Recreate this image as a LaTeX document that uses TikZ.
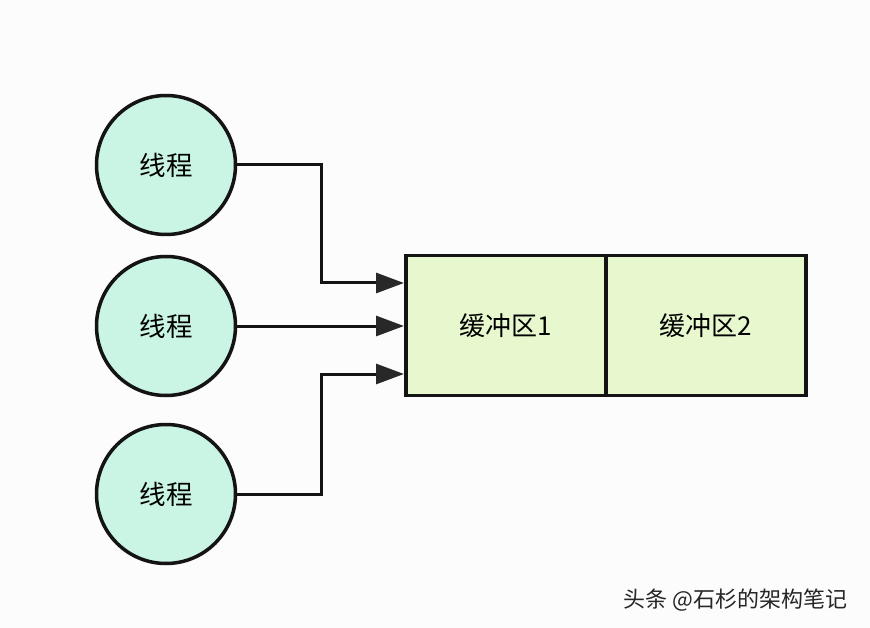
\documentclass[tikz,border=0pt]{standalone}
\usepackage{fontspec}
\newfontfamily\cjk{Noto Sans CJK SC}
\usetikzlibrary{arrows.meta}
\definecolor{bgc}{RGB}{252,252,252}
\definecolor{circfill}{RGB}{202,245,228}
\definecolor{boxfill}{RGB}{231,248,206}
\definecolor{linec}{RGB}{20,20,20}
\definecolor{arrc}{RGB}{40,40,40}
\tikzset{
  thread/.style={circle, draw=linec, line width=3.5pt, fill=circfill, minimum size=139pt, inner sep=0pt, font=\cjk\fontsize{26.5}{26.5}\selectfont},
  buf/.style={rectangle, draw=linec, line width=3.5pt, fill=boxfill, minimum width=200pt, minimum height=140pt, inner sep=0pt, font=\cjk\fontsize{26}{26}\selectfont},
  conn/.style={draw=linec, line width=3pt, -{Triangle[length=28pt,width=20pt,color=arrc]}},
}
\begin{document}
\begin{tikzpicture}[x=1pt,y=-1pt]
\fill[bgc] (0,0) rectangle (870,628);
\useasboundingbox (0,0) rectangle (870,628);
\node[thread] (t1) at (166,165) {线程};
\node[thread] (t2) at (166,326) {线程};
\node[thread] (t3) at (166,494) {线程};
\node[buf] (b1) at (506,325.5) {缓冲区1};
\node[buf] (b2) at (706,325.5) {缓冲区2};
\coordinate (p1) at (404,283);
\coordinate (p2) at (404,326);
\coordinate (p3) at (404,374);
\draw[conn] (t1.east) -| (321,283) -- (p1);
\draw[conn] (t2.east) -- (p2);
\draw[conn] (t3.east) -| (321,374) -- (p3);
\node[anchor=east, text=black!85, font=\cjk\fontsize{22}{22}\selectfont] (wm) at (851,600) {头条 @石杉的架构笔记};
\end{tikzpicture}
\end{document}
